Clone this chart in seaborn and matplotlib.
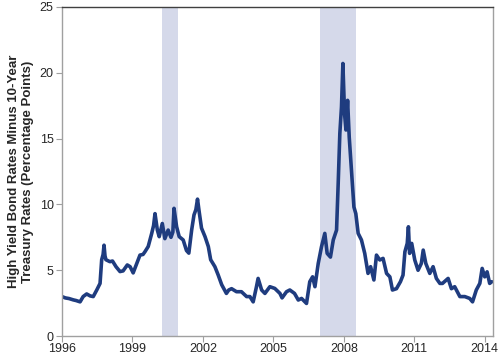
import matplotlib
matplotlib.use("Agg")
import matplotlib.pyplot as plt
import seaborn as sns
import pandas as pd

# High yield spread over 10-year Treasury
years = [1996.0, 1996.14, 1996.3, 1996.48, 1996.6, 1996.77, 1996.9, 1997.05, 1997.2, 1997.33,
         1997.48, 1997.62, 1997.69, 1997.75, 1997.79, 1997.83, 1997.87, 1998.04, 1998.15, 1998.3,
         1998.47, 1998.6, 1998.78, 1998.9, 1999.03, 1999.18, 1999.32, 1999.45, 1999.53, 1999.67,
         1999.82, 1999.9, 1999.96, 2000.06, 2000.14, 2000.27, 2000.38, 2000.52, 2000.64, 2000.72,
         2000.77, 2000.88, 2000.99, 2001.16, 2001.3, 2001.4, 2001.52, 2001.62, 2001.7, 2001.77,
         2001.84, 2001.94, 2002.09, 2002.23, 2002.33, 2002.51, 2002.65, 2002.8, 2003.0, 2003.1,
         2003.22, 2003.43, 2003.64, 2003.86, 2004.0, 2004.14, 2004.28, 2004.35, 2004.5, 2004.64,
         2004.85, 2005.06, 2005.28, 2005.37, 2005.56, 2005.7, 2005.9, 2006.06, 2006.2, 2006.41,
         2006.55, 2006.67, 2006.77, 2006.91, 2007.05, 2007.19, 2007.29, 2007.43, 2007.55, 2007.69,
         2007.76, 2007.83, 2007.9, 2007.96, 2008.03, 2008.09, 2008.16, 2008.23, 2008.33, 2008.43,
         2008.51, 2008.61, 2008.75, 2008.89, 2009.03, 2009.14, 2009.28, 2009.39, 2009.53, 2009.67,
         2009.82, 2009.96, 2010.07, 2010.24, 2010.41, 2010.52, 2010.6, 2010.7, 2010.75, 2010.8,
         2010.89, 2011.02, 2011.16, 2011.3, 2011.38, 2011.49, 2011.66, 2011.8, 2011.94, 2012.09,
         2012.2, 2012.44, 2012.58, 2012.72, 2012.94, 2013.15, 2013.36, 2013.48, 2013.64, 2013.79,
         2013.89, 2014.0, 2014.1, 2014.21, 2014.3]
spread = [3.0, 2.9, 2.85, 2.75, 2.7, 2.6, 3.0, 3.2, 3.05, 3.0,
          3.5, 4.0, 5.8, 6.2, 6.9, 6.1, 5.8, 5.65, 5.7, 5.27,
          4.9, 4.95, 5.4, 5.27, 4.8, 5.5, 6.15, 6.2, 6.4, 6.8,
          7.8, 8.4, 9.3, 8.05, 7.55, 8.55, 7.4, 8.05, 7.5, 7.9,
          9.7, 8.3, 7.55, 7.3, 6.5, 6.3, 8.05, 9.2, 9.6, 10.4,
          9.45, 8.2, 7.55, 6.8, 5.8, 5.27, 4.64, 3.9, 3.24, 3.5,
          3.6, 3.37, 3.37, 3.0, 3.0, 2.6, 3.75, 4.38, 3.5, 3.24,
          3.75, 3.62, 3.24, 2.9, 3.37, 3.5, 3.24, 2.74, 2.86, 2.48,
          4.13, 4.5, 3.75, 5.52, 6.79, 7.8, 6.28, 6.0, 7.3, 8.05,
          11.6, 15.4, 17.4, 20.7, 16.9, 15.65, 17.9, 15.1, 12.4, 9.8,
          9.3, 7.8, 7.3, 6.28, 4.76, 5.27, 4.26, 6.15, 5.78, 5.9,
          4.76, 4.5, 3.5, 3.6, 4.13, 4.63, 6.4, 7.04, 8.3, 6.28,
          7.04, 5.78, 5.0, 5.52, 6.53, 5.52, 4.76, 5.27, 4.38, 4.0,
          4.0, 4.38, 3.6, 3.75, 3.0, 3.0, 2.86, 2.6, 3.5, 4.0,
          5.14, 4.5, 4.88, 4.0, 4.13]

# shaded recession bands (start, end)
recessions = [(2000.26, 2000.94), (2006.98, 2008.51)]

x_ticks = [1996, 1999, 2002, 2005, 2008, 2011, 2014]
y_ticks = [0, 5, 10, 15, 20, 25]

df = pd.DataFrame({"year": years, "spread": spread})

sns.set_style("white")
plt.rcParams["font.family"] = ["Liberation Sans", "DejaVu Sans"]

fig, ax = plt.subplots(figsize=(5, 3.61), dpi=100)
fig.subplots_adjust(left=0.124, right=0.985, bottom=0.069, top=0.981)

for start, end in recessions:
    ax.axvspan(start, end, color="#d5d9ea", lw=0, zorder=0)

sns.lineplot(data=df, x="year", y="spread", ax=ax, color="#1f3c7f", linewidth=2.6)

ax.set_xlim(1996, 2014.33)
ax.set_ylim(0, 25)
ax.set_xticks(x_ticks)
ax.set_yticks(y_ticks)
ax.set_xlabel("")
ax.set_ylabel("High Yield Bond Rates Minus 10-Year\nTreasury Rates (Percentage Points)",
              fontsize=9.5, fontweight="bold", labelpad=4)
ax.tick_params(axis="both", labelsize=9, length=4, width=0.8, color="#a0a0a0",
               direction="out", pad=2, bottom=True, left=True)
ax.tick_params(axis="x", pad=1)

for side in ["left", "bottom", "right"]:
    ax.spines[side].set_color("#a0a0a0")
    ax.spines[side].set_linewidth(1.0)
ax.spines["top"].set_color("#404040")
ax.spines["top"].set_linewidth(1.0)

fig.savefig("out.png", dpi=100)
